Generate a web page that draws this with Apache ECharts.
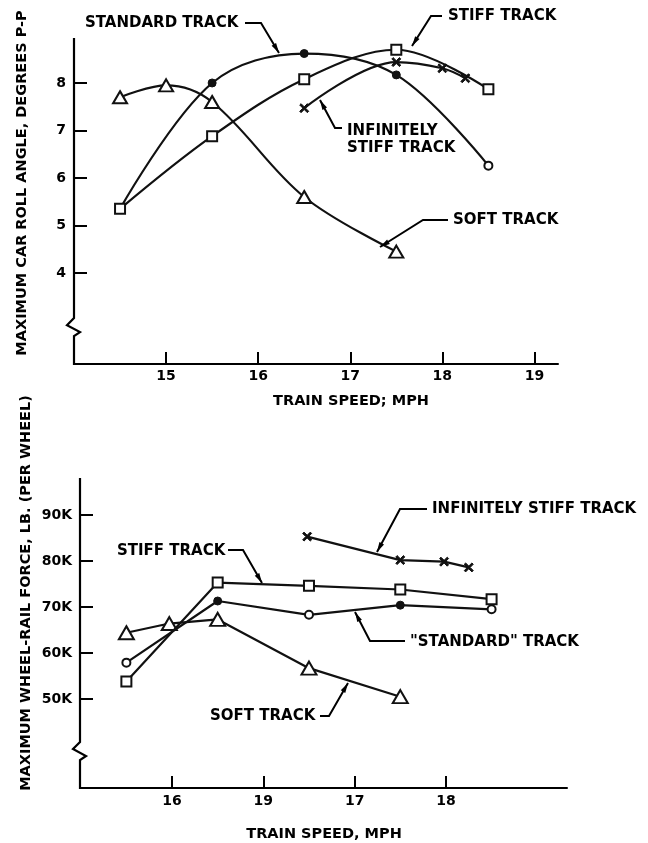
<!DOCTYPE html>
<html><head><meta charset="utf-8">
<script src="https://cdn.jsdelivr.net/npm/echarts@6/dist/echarts.min.js"></script>
<style>html,body{margin:0;padding:0;background:#fff}#c{width:648px;height:843px}</style>
</head><body><div id="c"></div>
<script>
// ---------------- data ----------------
// Top chart: maximum car roll angle, degrees p-p
const rollSoftX  = [14.5, 15.0, 15.5, 16.5, 17.5];
const rollSoftY  = [7.7, 7.95, 7.6, 5.6, 4.45];
const rollStdX   = [14.5, 15.5, 16.5, 17.5, 18.5];
const rollStdY   = [5.35, 8.0, 8.62, 8.17, 6.26];
const rollStiffX = [14.5, 15.5, 16.5, 17.5, 18.5];
const rollStiffY = [5.35, 6.88, 8.08, 8.7, 7.87];
const rollInfX   = [16.5, 17.5, 18.0, 18.25];
const rollInfY   = [7.47, 8.44, 8.31, 8.1];

// Bottom chart: maximum wheel-rail force, K lb (per wheel)
const forceSoftX  = [14.5, 14.97, 15.5, 16.5, 17.5];
const forceSoftY  = [64.4, 66.4, 67.3, 56.7, 50.5];
const forceStdX   = [14.5, 15.5, 16.5, 17.5, 18.5];
const forceStdY   = [57.9, 71.3, 68.3, 70.4, 69.5];
const forceStiffX = [14.5, 15.5, 16.5, 17.5, 18.5];
const forceStiffY = [53.8, 75.3, 74.6, 73.8, 71.7];
const forceInfX   = [16.48, 17.5, 17.98, 18.25];
const forceInfY   = [85.3, 80.2, 79.85, 78.6];

// tick values / labels
const rollXTicks = [15, 16, 17, 18, 19];
const rollXTickLabels = ['15', '16', '17', '18', '19'];
const rollYTicks = [4, 5, 6, 7, 8];
const rollYTickLabels = ['4', '5', '6', '7', '8'];
const forceXTicks = [15, 16, 17, 18];
const forceXTickLabels = ['16', '19', '17', '18'];   // as printed in the reference
const forceYTicks = [50, 60, 70, 80, 90];
const forceYTickLabels = ['50K', '60K', '70K', '80K', '90K'];

// ---------------- chart ----------------
const FONT = '"DejaVu Sans", sans-serif';
const BLACK = '#111';
const chart = echarts.init(document.getElementById('c'), null, {renderer: 'canvas'});

const ranges = {
  x0: [14.0, 19.256], y0: [2.084, 8.947], yBreak0: 3.05,
  x1: [13.992, 19.326], y1: [30.65, 98.04], yBreak1: 40.65
};

function pts(xs, ys) { return xs.map((x, i) => [x, ys[i]]); }
const lbl = (ticks, labels) => v => { const i = ticks.indexOf(v); return i < 0 ? '' : labels[i]; };

function xAxisCfg(gi, r, ticks, labels, margin) {
  return {
    gridIndex: gi, type: 'value', min: r[0], max: r[1],
    axisLine: {show: true, onZero: false, lineStyle: {color: '#000', width: 2}},
    axisTick: {show: true, inside: true, length: 12, customValues: ticks, lineStyle: {color: '#000', width: 2}},
    axisLabel: {customValues: ticks, formatter: lbl(ticks, labels), margin: margin,
      fontFamily: FONT, fontWeight: 'bold', fontSize: 14, color: '#000'},
    splitLine: {show: false}
  };
}
function yAxisCfg(gi, r, ticks, labels) {
  return {
    gridIndex: gi, type: 'value', min: r[0], max: r[1],
    axisLine: {show: false},
    axisTick: {show: true, inside: true, length: 13, customValues: ticks, lineStyle: {color: '#000', width: 2}},
    axisLabel: {customValues: ticks, formatter: lbl(ticks, labels), margin: 8,
      fontFamily: FONT, fontWeight: 'bold', fontSize: 14, color: '#000'},
    splitLine: {show: false}
  };
}

const openStyle = {color: '#fff', borderColor: BLACK, borderWidth: 2};
const fillStyle = {color: BLACK, borderColor: BLACK, borderWidth: 1};
const xSymbol = 'path://M0,1.5L1.5,0L5,3.5L8.5,0L10,1.5L6.5,5L10,8.5L8.5,10L5,6.5L1.5,10L0,8.5L3.5,5Z';

function line(gi, data, symbol, size, itemStyle, smooth, z) {
  return {
    type: 'line', xAxisIndex: gi, yAxisIndex: gi, data: data,
    symbol: symbol, symbolSize: size, showSymbol: true, smooth: smooth,
    lineStyle: {color: BLACK, width: 2.2}, itemStyle: itemStyle, z: z || 2,
    emphasis: {disabled: true}, silent: true
  };
}

// standard track: which markers are open circles (style, not data)
const rollStdOpen = [4];
const forceStdOpen = [0, 2, 4];
function stdData(xs, ys, openIdx, hideFirst) {
  return pts(xs, ys).map((p, i) => {
    if (hideFirst && i === 0) return {value: p, symbol: 'none'};
    return {value: p, itemStyle: openIdx.indexOf(i) >= 0 ? openStyle : fillStyle};
  });
}

const SMOOTH = 0.35;
const option = {
  animation: false,
  backgroundColor: '#fff',
  grid: [
    {left: 74, top: 38, width: 484, height: 326, containLabel: false},
    {left: 80, top: 478, width: 487, height: 310, containLabel: false}
  ],
  xAxis: [
    xAxisCfg(0, ranges.x0, rollXTicks, rollXTickLabels, 5),
    xAxisCfg(1, ranges.x1, forceXTicks, forceXTickLabels, 6)
  ],
  yAxis: [
    yAxisCfg(0, ranges.y0, rollYTicks, rollYTickLabels),
    yAxisCfg(1, ranges.y1, forceYTicks, forceYTickLabels)
  ],
  series: [
    // top (smooth curves)
    line(0, stdData(rollStdX, rollStdY, rollStdOpen, true), 'circle', 8, fillStyle, SMOOTH),
    line(0, pts(rollStiffX, rollStiffY), 'rect', 10, openStyle, SMOOTH, 3),
    line(0, pts(rollInfX, rollInfY), xSymbol, 9, fillStyle, SMOOTH),
    line(0, pts(rollSoftX, rollSoftY), 'triangle', [14, 12], openStyle, SMOOTH),
    // bottom (straight segments)
    line(1, stdData(forceStdX, forceStdY, forceStdOpen, false), 'circle', 8, fillStyle, false),
    line(1, pts(forceStiffX, forceStiffY), 'rect', 10, openStyle, false, 3),
    line(1, pts(forceInfX, forceInfY), xSymbol, 9, fillStyle, false),
    line(1, pts(forceSoftX, forceSoftY), 'triangle', [15, 13], openStyle, false)
  ]
};
chart.setOption(option);

// ---------------- decorations: broken y axes, titles, annotations ----------------
function px(gi, x, y) { return chart.convertToPixel({xAxisIndex: gi, yAxisIndex: gi}, [x, y]); }
const g = [];
function yAxisWithBreak(gi, xr, yr, yb) {
  const a = px(gi, xr[0], yr[1]), b = px(gi, xr[0], yb), c = px(gi, xr[0], yr[0]);
  const X = a[0], B = b[1];
  g.push({type: 'polyline', silent: true, z: 10,
    shape: {points: [[X, a[1]], [X, B], [X - 7, B + 7], [X + 6, B + 14], [X, B + 18], [X, c[1] + 1]]},
    style: {stroke: '#000', lineWidth: 2.2, fill: null}});
}
yAxisWithBreak(0, ranges.x0, ranges.y0, ranges.yBreak0);
yAxisWithBreak(1, ranges.x1, ranges.y1, ranges.yBreak1);

function text(str, x, y, size, align, rot) {
  g.push({type: 'text', silent: true, z: 10, x: x, y: y, rotation: rot || 0,
    style: {text: str, fill: '#000', font: 'bold ' + size + 'px ' + FONT,
      align: align || 'left', verticalAlign: 'middle'}});
}
function leader(points) {
  g.push({type: 'polyline', silent: true, z: 10, shape: {points: points},
    style: {stroke: '#000', lineWidth: 2, fill: null}});
  const p1 = points[points.length - 1], p0 = points[points.length - 2];
  const dx = p1[0] - p0[0], dy = p1[1] - p0[1], L = Math.hypot(dx, dy);
  const ux = dx / L, uy = dy / L, len = 10, w = 2.6;
  const bx = p1[0] - ux * len, by = p1[1] - uy * len;
  g.push({type: 'polygon', silent: true, z: 10,
    shape: {points: [[p1[0], p1[1]], [bx - uy * w, by + ux * w], [bx + uy * w, by - ux * w]]},
    style: {fill: '#000'}});
}

// axis titles
text('MAXIMUM CAR ROLL ANGLE, DEGREES P-P', 22, 183, 14.5, 'center', Math.PI / 2);
text('TRAIN SPEED; MPH', 351, 401, 14.5, 'center');
text('MAXIMUM WHEEL-RAIL FORCE, LB. (PER WHEEL)', 26, 593, 14.5, 'center', Math.PI / 2);
text('TRAIN SPEED, MPH', 324, 834, 14.5, 'center');

// top annotations
text('STANDARD TRACK', 85, 23, 15);
leader([[245, 23], [261, 23], [279, 53]]);
text('STIFF TRACK', 448, 16, 15);
leader([[442, 16], [431, 16], [412, 46]]);
text('INFINITELY', 347, 131, 15);
text('STIFF TRACK', 347, 148, 15);
leader([[342, 128], [335, 128], [320, 100]]);
text('SOFT TRACK', 453, 220, 15);
leader([[448, 220], [423, 220], [380, 247]]);

// bottom annotations
text('STIFF TRACK', 117, 551, 15);
leader([[228, 550], [243, 550], [262, 583]]);
text('INFINITELY STIFF TRACK', 432, 509, 15);
leader([[427, 509], [400, 509], [377, 552]]);
text('"STANDARD" TRACK', 410, 642, 15);
leader([[405, 641], [370, 641], [355, 612]]);
text('SOFT TRACK', 210, 716, 15);
leader([[320, 716], [329, 716], [348, 683]]);

chart.setOption({graphic: {elements: g}});
</script>
</body></html>
